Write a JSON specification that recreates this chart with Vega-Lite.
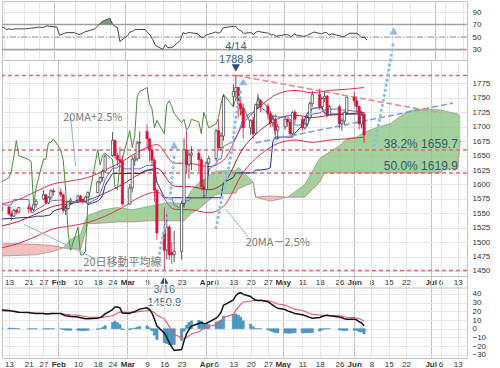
{
"$schema":"https://vega.github.io/schema/vega-lite/v6.json",
"padding":0,
"background":"white",
"config":{"view":{"stroke":"#c4c4c4","strokeWidth":1},"axis":{"labelFont":"Liberation Sans","labelFontSize":8,"labelColor":"#333333","gridColor":"#e6e6e6","ticks":false,"domain":false,"labelOverlap":false},"text":{"font":"Liberation Sans"}},
"datasets":{
"daily":[
{"date":"2020-01-10","o":1554,"h":1563,"l":1550,"c":1560,"rsi":67,"macd":21.5,"sig":20.5,"hist":1.0,"tk":1565,"kj":1540},
{"date":"2020-01-13","o":1561,"h":1562,"l":1546,"c":1549,"rsi":65,"macd":21,"sig":20.2,"hist":0.8,"tk":1564,"kj":1541},
{"date":"2020-01-14","o":1549,"h":1553,"l":1537,"c":1545,"rsi":62,"macd":20.5,"sig":19.9,"hist":0.6,"tk":1565,"kj":1541},
{"date":"2020-01-15","o":1545,"h":1558,"l":1544,"c":1555,"rsi":63,"macd":20,"sig":19.5,"hist":0.5,"tk":1574,"kj":1541},
{"date":"2020-01-16","o":1555,"h":1558,"l":1548,"c":1552,"rsi":62,"macd":19.5,"sig":19.2,"hist":0.3,"tk":1574,"kj":1542},
{"date":"2020-01-17","o":1552,"h":1561,"l":1550,"c":1560,"rsi":63,"macd":19,"sig":18.9,"hist":0.1,"tk":1574,"kj":1542},
{"date":"2020-01-21","o":1560,"h":1566,"l":1550,"c":1558,"rsi":63,"macd":18.5,"sig":18.6,"hist":-0.1,"tk":1574,"kj":1543},
{"date":"2020-01-22","o":1558,"h":1562,"l":1552,"c":1556,"rsi":63,"macd":18,"sig":18.3,"hist":-0.3,"tk":1551,"kj":1543},
{"date":"2020-01-23","o":1557,"h":1567,"l":1553,"c":1565,"rsi":64,"macd":17.8,"sig":18.0,"hist":-0.2,"tk":1552,"kj":1544},
{"date":"2020-01-24","o":1565,"h":1575,"l":1560,"c":1571,"rsi":64,"macd":17.5,"sig":17.8,"hist":-0.3,"tk":1556,"kj":1545},
{"date":"2020-01-27","o":1575,"h":1590,"l":1573,"c":1582,"rsi":66,"macd":17.5,"sig":17.7,"hist":-0.2,"tk":1563,"kj":1545},
{"date":"2020-01-28","o":1582,"h":1584,"l":1565,"c":1568,"rsi":65,"macd":17,"sig":17.5,"hist":-0.5,"tk":1567,"kj":1546},
{"date":"2020-01-29","o":1568,"h":1580,"l":1566,"c":1577,"rsi":66,"macd":17,"sig":17.4,"hist":-0.4,"tk":1569,"kj":1546},
{"date":"2020-01-30","o":1577,"h":1592,"l":1573,"c":1589,"rsi":68,"macd":17.5,"sig":17.4,"hist":0.1,"tk":1571,"kj":1548},
{"date":"2020-01-31","o":1589,"h":1594,"l":1580,"c":1587,"rsi":67,"macd":17.5,"sig":17.4,"hist":0.1,"tk":1572,"kj":1554},
{"date":"2020-02-03","o":1587,"h":1593,"l":1578,"c":1582,"rsi":66,"macd":17.5,"sig":17.4,"hist":0.1,"tk":1573,"kj":1558},
{"date":"2020-02-04","o":1582,"h":1583,"l":1550,"c":1555,"rsi":53,"macd":16,"sig":17.1,"hist":-1.1,"tk":1572,"kj":1560},
{"date":"2020-02-05","o":1555,"h":1563,"l":1547,"c":1558,"rsi":54,"macd":15,"sig":16.7,"hist":-1.7,"tk":1570,"kj":1561},
{"date":"2020-02-06","o":1558,"h":1572,"l":1556,"c":1570,"rsi":56,"macd":14.5,"sig":16.3,"hist":-1.8,"tk":1570,"kj":1563},
{"date":"2020-02-07","o":1570,"h":1577,"l":1565,"c":1573,"rsi":57,"macd":14,"sig":15.9,"hist":-1.9,"tk":1570,"kj":1565},
{"date":"2020-02-10","o":1573,"h":1582,"l":1569,"c":1580,"rsi":57,"macd":13.5,"sig":15.4,"hist":-1.9,"tk":1570,"kj":1574},
{"date":"2020-02-11","o":1580,"h":1582,"l":1569,"c":1571,"rsi":55,"macd":12.5,"sig":14.9,"hist":-2.4,"tk":1570,"kj":1574},
{"date":"2020-02-12","o":1572,"h":1575,"l":1566,"c":1570,"rsi":54,"macd":12,"sig":14.3,"hist":-2.3,"tk":1570,"kj":1574},
{"date":"2020-02-13","o":1571,"h":1580,"l":1568,"c":1578,"rsi":56,"macd":11.5,"sig":13.8,"hist":-2.3,"tk":1570,"kj":1574},
{"date":"2020-02-14","o":1578,"h":1588,"l":1576,"c":1586,"rsi":58,"macd":11.5,"sig":13.3,"hist":-1.8,"tk":1567,"kj":1565},
{"date":"2020-02-18","o":1586,"h":1606,"l":1585,"c":1604,"rsi":63,"macd":12,"sig":13.0,"hist":-1.0,"tk":1576,"kj":1571},
{"date":"2020-02-19","o":1604,"h":1614,"l":1600,"c":1612,"rsi":67,"macd":13,"sig":12.9,"hist":0.1,"tk":1585,"kj":1575},
{"date":"2020-02-20","o":1612,"h":1626,"l":1605,"c":1623,"rsi":71,"macd":14.5,"sig":13.0,"hist":1.5,"tk":1595,"kj":1581},
{"date":"2020-02-21","o":1623,"h":1652,"l":1620,"c":1649,"rsi":75,"macd":17,"sig":13.5,"hist":3.5,"tk":1609,"kj":1598},
{"date":"2020-02-24","o":1650,"h":1691,"l":1648,"c":1676,"rsi":80,"macd":22,"sig":14.8,"hist":7.2,"tk":1628,"kj":1619},
{"date":"2020-02-25","o":1676,"h":1678,"l":1645,"c":1650,"rsi":71,"macd":25,"sig":16.5,"hist":8.5,"tk":1628,"kj":1619},
{"date":"2020-02-26","o":1650,"h":1654,"l":1632,"c":1643,"rsi":67,"macd":25,"sig":18.0,"hist":7.0,"tk":1629,"kj":1619},
{"date":"2020-02-27","o":1643,"h":1665,"l":1637,"c":1640,"rsi":65,"macd":24,"sig":19.2,"hist":4.8,"tk":1633,"kj":1619},
{"date":"2020-02-28","o":1640,"h":1650,"l":1563,"c":1566,"rsi":43,"macd":18,"sig":19.0,"hist":-1.0,"tk":1627,"kj":1619},
{"date":"2020-03-02","o":1566,"h":1601,"l":1565,"c":1594,"rsi":52,"macd":17.5,"sig":18.8,"hist":-1.3,"tk":1627,"kj":1619},
{"date":"2020-03-03","o":1594,"h":1649,"l":1586,"c":1644,"rsi":58,"macd":19,"sig":18.8,"hist":0.2,"tk":1627,"kj":1619},
{"date":"2020-03-04","o":1641,"h":1652,"l":1632,"c":1644,"rsi":59,"macd":19.5,"sig":18.9,"hist":0.6,"tk":1627,"kj":1619},
{"date":"2020-03-05","o":1644,"h":1675,"l":1640,"c":1672,"rsi":62,"macd":21,"sig":19.3,"hist":1.7,"tk":1627,"kj":1619},
{"date":"2020-03-06","o":1672,"h":1692,"l":1644,"c":1673,"rsi":62,"macd":22.5,"sig":19.9,"hist":2.6,"tk":1627,"kj":1619},
{"date":"2020-03-09","o":1692,"h":1704,"l":1660,"c":1679,"rsi":62,"macd":24,"sig":20.7,"hist":3.3,"tk":1633,"kj":1625},
{"date":"2020-03-10","o":1679,"h":1681,"l":1640,"c":1660,"rsi":57,"macd":22,"sig":21.0,"hist":1.0,"tk":1633,"kj":1625},
{"date":"2020-03-11","o":1660,"h":1666,"l":1632,"c":1642,"rsi":53,"macd":18,"sig":20.4,"hist":-2.4,"tk":1633,"kj":1625},
{"date":"2020-03-12","o":1642,"h":1646,"l":1570,"c":1590,"rsi":46,"macd":11,"sig":18.5,"hist":-7.5,"tk":1634,"kj":1625},
{"date":"2020-03-13","o":1590,"h":1592,"l":1504,"c":1516,"rsi":37,"macd":3,"sig":15.4,"hist":-12.4,"tk":1604,"kj":1604},
{"date":"2020-03-16","o":1516,"h":1560,"l":1451,"c":1486,"rsi":30,"macd":-5,"sig":11.3,"hist":-16.3,"tk":1577,"kj":1577},
{"date":"2020-03-17","o":1486,"h":1548,"l":1470,"c":1526,"rsi":38,"macd":-10,"sig":7.0,"hist":-17.0,"tk":1577,"kj":1577},
{"date":"2020-03-18","o":1526,"h":1530,"l":1469,"c":1478,"rsi":33,"macd":-16,"sig":2.4,"hist":-18.4,"tk":1577,"kj":1577},
{"date":"2020-03-19","o":1482,"h":1500,"l":1462,"c":1478,"rsi":33,"macd":-21,"sig":-2.2,"hist":-18.8,"tk":1577,"kj":1577},
{"date":"2020-03-20","o":1478,"h":1520,"l":1465,"c":1484,"rsi":34,"macd":-25,"sig":-6.8,"hist":-18.2,"tk":1564,"kj":1577},
{"date":"2020-03-23","o":1484,"h":1572,"l":1470,"c":1567,"rsi":45,"macd":-24,"sig":-10.2,"hist":-13.8,"tk":1558,"kj":1577},
{"date":"2020-03-24","o":1567,"h":1680,"l":1560,"c":1660,"rsi":57,"macd":-14,"sig":-11.0,"hist":-3.0,"tk":1565,"kj":1577},
{"date":"2020-03-25","o":1660,"h":1693,"l":1620,"c":1634,"rsi":55,"macd":-6,"sig":-10.0,"hist":4.0,"tk":1572,"kj":1577},
{"date":"2020-03-26","o":1634,"h":1660,"l":1610,"c":1651,"rsi":57,"macd":-1,"sig":-8.2,"hist":7.2,"tk":1572,"kj":1577},
{"date":"2020-03-27","o":1651,"h":1666,"l":1625,"c":1654,"rsi":57,"macd":3,"sig":-6.0,"hist":9.0,"tk":1577,"kj":1577},
{"date":"2020-03-30","o":1654,"h":1658,"l":1622,"c":1643,"rsi":55,"macd":6,"sig":-3.6,"hist":9.6,"tk":1577,"kj":1577},
{"date":"2020-03-31","o":1643,"h":1648,"l":1590,"c":1596,"rsi":50,"macd":7,"sig":-1.5,"hist":8.5,"tk":1577,"kj":1577},
{"date":"2020-04-01","o":1596,"h":1609,"l":1576,"c":1591,"rsi":49,"macd":6,"sig":0,"hist":6.0,"tk":1579,"kj":1577},
{"date":"2020-04-02","o":1591,"h":1640,"l":1590,"c":1637,"rsi":53,"macd":6,"sig":1.2,"hist":4.8,"tk":1581,"kj":1577},
{"date":"2020-04-03","o":1637,"h":1650,"l":1615,"c":1645,"rsi":54,"macd":7.5,"sig":2.5,"hist":5.0,"tk":1626,"kj":1577},
{"date":"2020-04-06","o":1645,"h":1696,"l":1640,"c":1693,"rsi":58,"macd":12,"sig":4.4,"hist":7.6,"tk":1636,"kj":1577},
{"date":"2020-04-07","o":1693,"h":1713,"l":1660,"c":1664,"rsi":56,"macd":15,"sig":6.5,"hist":8.5,"tk":1644,"kj":1577},
{"date":"2020-04-08","o":1664,"h":1690,"l":1659,"c":1684,"rsi":58,"macd":19,"sig":9.0,"hist":10.0,"tk":1644,"kj":1577},
{"date":"2020-04-09","o":1684,"h":1756,"l":1676,"c":1752,"rsi":65,"macd":27,"sig":12.6,"hist":14.4,"tk":1666,"kj":1603},
{"date":"2020-04-13","o":1752,"h":1774,"l":1735,"c":1761,"rsi":67,"macd":33,"sig":16.7,"hist":16.3,"tk":1675,"kj":1612},
{"date":"2020-04-14","o":1761,"h":1788.8,"l":1749,"c":1768,"rsi":67,"macd":38,"sig":21.0,"hist":17.0,"tk":1682,"kj":1620},
{"date":"2020-04-15","o":1768,"h":1769,"l":1716,"c":1740,"rsi":62,"macd":40.5,"sig":24.9,"hist":15.6,"tk":1689,"kj":1620},
{"date":"2020-04-16","o":1740,"h":1753,"l":1719,"c":1731,"rsi":60,"macd":41.4,"sig":28.2,"hist":13.2,"tk":1702,"kj":1620},
{"date":"2020-04-17","o":1731,"h":1740,"l":1680,"c":1698,"rsi":56,"macd":39.5,"sig":30.5,"hist":9.0,"tk":1714,"kj":1620},
{"date":"2020-04-20","o":1698,"h":1713,"l":1686,"c":1711,"rsi":57,"macd":37,"sig":31.8,"hist":5.2,"tk":1724,"kj":1620},
{"date":"2020-04-21","o":1711,"h":1717,"l":1679,"c":1688,"rsi":54,"macd":34.5,"sig":32.3,"hist":2.2,"tk":1724,"kj":1620},
{"date":"2020-04-22","o":1688,"h":1740,"l":1687,"c":1738,"rsi":58,"macd":33,"sig":32.4,"hist":0.6,"tk":1732,"kj":1625},
{"date":"2020-04-23","o":1738,"h":1757,"l":1730,"c":1745,"rsi":59,"macd":32.5,"sig":32.4,"hist":0.1,"tk":1734,"kj":1625},
{"date":"2020-04-24","o":1745,"h":1748,"l":1725,"c":1735,"rsi":58,"macd":32.6,"sig":32.4,"hist":0.2,"tk":1734,"kj":1625},
{"date":"2020-04-27","o":1735,"h":1740,"l":1713,"c":1723,"rsi":56,"macd":31,"sig":32.1,"hist":-1.1,"tk":1724,"kj":1627},
{"date":"2020-04-28","o":1723,"h":1727,"l":1700,"c":1707,"rsi":53,"macd":29,"sig":31.5,"hist":-2.5,"tk":1718,"kj":1629},
{"date":"2020-04-29","o":1707,"h":1718,"l":1700,"c":1713,"rsi":54,"macd":27,"sig":30.6,"hist":-3.6,"tk":1718,"kj":1674},
{"date":"2020-04-30","o":1713,"h":1722,"l":1680,"c":1694,"rsi":51,"macd":25,"sig":29.5,"hist":-4.5,"tk":1718,"kj":1682},
{"date":"2020-05-01","o":1694,"h":1705,"l":1678,"c":1700,"rsi":52,"macd":23.5,"sig":28.3,"hist":-4.8,"tk":1717,"kj":1682},
{"date":"2020-05-04","o":1700,"h":1718,"l":1695,"c":1713,"rsi":54,"macd":22,"sig":27.1,"hist":-5.1,"tk":1717,"kj":1682},
{"date":"2020-05-05","o":1713,"h":1715,"l":1700,"c":1708,"rsi":53,"macd":20.5,"sig":25.8,"hist":-5.3,"tk":1717,"kj":1682},
{"date":"2020-05-06","o":1708,"h":1712,"l":1683,"c":1688,"rsi":50,"macd":19.5,"sig":24.6,"hist":-5.1,"tk":1713,"kj":1682},
{"date":"2020-05-07","o":1688,"h":1727,"l":1686,"c":1725,"rsi":55,"macd":18.5,"sig":23.4,"hist":-4.9,"tk":1709,"kj":1682},
{"date":"2020-05-08","o":1725,"h":1729,"l":1706,"c":1713,"rsi":53,"macd":17.5,"sig":22.2,"hist":-4.7,"tk":1703,"kj":1689},
{"date":"2020-05-11","o":1713,"h":1717,"l":1693,"c":1698,"rsi":51,"macd":16,"sig":21.0,"hist":-5.0,"tk":1703,"kj":1702},
{"date":"2020-05-12","o":1698,"h":1713,"l":1695,"c":1705,"rsi":52,"macd":15,"sig":19.8,"hist":-4.8,"tk":1703,"kj":1714},
{"date":"2020-05-13","o":1705,"h":1720,"l":1700,"c":1716,"rsi":54,"macd":14,"sig":18.6,"hist":-4.6,"tk":1703,"kj":1724},
{"date":"2020-05-14","o":1716,"h":1744,"l":1712,"c":1740,"rsi":56,"macd":13,"sig":17.5,"hist":-4.5,"tk":1713,"kj":1724},
{"date":"2020-05-15","o":1740,"h":1762,"l":1735,"c":1756,"rsi":58,"macd":12,"sig":16.5,"hist":-4.5,"tk":1722,"kj":1732},
{"date":"2020-05-18","o":1756,"h":1766,"l":1729,"c":1735,"rsi":55,"macd":13,"sig":15.8,"hist":-2.8,"tk":1724,"kj":1733},
{"date":"2020-05-19","o":1735,"h":1752,"l":1728,"c":1749,"rsi":57,"macd":14,"sig":15.4,"hist":-1.4,"tk":1726,"kj":1733},
{"date":"2020-05-20","o":1749,"h":1761,"l":1743,"c":1753,"rsi":57,"macd":15,"sig":15.3,"hist":-0.3,"tk":1729,"kj":1723},
{"date":"2020-05-21","o":1753,"h":1755,"l":1716,"c":1721,"rsi":53,"macd":15.4,"sig":15.3,"hist":0.1,"tk":1729,"kj":1722},
{"date":"2020-05-22","o":1721,"h":1738,"l":1720,"c":1735,"rsi":55,"macd":15,"sig":15.2,"hist":-0.2,"tk":1730,"kj":1722},
{"date":"2020-05-26","o":1735,"h":1738,"l":1697,"c":1705,"rsi":51,"macd":13.5,"sig":14.9,"hist":-1.4,"tk":1731,"kj":1722},
{"date":"2020-05-27","o":1705,"h":1715,"l":1693,"c":1710,"rsi":51,"macd":12.5,"sig":14.4,"hist":-1.9,"tk":1729,"kj":1722},
{"date":"2020-05-28","o":1710,"h":1727,"l":1704,"c":1725,"rsi":53,"macd":11.5,"sig":13.8,"hist":-2.3,"tk":1729,"kj":1722},
{"date":"2020-05-29","o":1725,"h":1752,"l":1722,"c":1751,"rsi":56,"macd":11,"sig":13.2,"hist":-2.2,"tk":1729,"kj":1722},
{"date":"2020-06-01","o":1751,"h":1760,"l":1736,"c":1745,"rsi":56,"macd":11,"sig":12.7,"hist":-1.7,"tk":1727,"kj":1722},
{"date":"2020-06-02","o":1745,"h":1752,"l":1725,"c":1735,"rsi":53,"macd":10,"sig":12.2,"hist":-2.2,"tk":1727,"kj":1722},
{"date":"2020-06-03","o":1735,"h":1737,"l":1695,"c":1705,"rsi":49,"macd":8,"sig":11.4,"hist":-3.4,"tk":1726,"kj":1722},
{"date":"2020-06-04","o":1705,"h":1728,"l":1697,"c":1720,"rsi":50,"macd":6.5,"sig":10.4,"hist":-3.9,"tk":1726,"kj":1722},
{"date":"2020-06-05","o":1722,"h":1726,"l":1672,"c":1686,"rsi":45,"macd":3,"sig":9.0,"hist":-6.0,"tk":1715,"kj":1718}
],
"ma":[
{"date":"2020-01-10","ma":1528,"up":1566,"lo":1490},{"date":"2020-01-17","ma":1536,"up":1574,"lo":1498},{"date":"2020-01-24","ma":1549,"up":1588,"lo":1510},{"date":"2020-01-31","ma":1562,"up":1601,"lo":1523},{"date":"2020-02-07","ma":1567,"up":1606,"lo":1528},{"date":"2020-02-14","ma":1573,"up":1612,"lo":1534},{"date":"2020-02-21","ma":1585,"up":1625,"lo":1545},{"date":"2020-02-28","ma":1600,"up":1640,"lo":1560},{"date":"2020-03-06","ma":1618,"up":1658,"lo":1578},{"date":"2020-03-13","ma":1628,"up":1669,"lo":1587},{"date":"2020-03-20","ma":1597,"up":1637,"lo":1557},{"date":"2020-03-27","ma":1596,"up":1636,"lo":1556},{"date":"2020-04-03","ma":1591,"up":1631,"lo":1551},{"date":"2020-04-09","ma":1602,"up":1642,"lo":1562},{"date":"2020-04-17","ma":1663,"up":1705,"lo":1621},{"date":"2020-04-24","ma":1694,"up":1736,"lo":1652},{"date":"2020-05-01","ma":1714,"up":1757,"lo":1671},{"date":"2020-05-08","ma":1720,"up":1763,"lo":1677},{"date":"2020-05-15","ma":1716,"up":1759,"lo":1673},{"date":"2020-05-22","ma":1720,"up":1763,"lo":1677},{"date":"2020-05-29","ma":1722,"up":1765,"lo":1679},{"date":"2020-06-05","ma":1725,"up":1768,"lo":1682}
],
"chikou":[
{"date":"2020-01-10","v":1604},{"date":"2020-01-13","v":1612},{"date":"2020-01-14","v":1623},{"date":"2020-01-15","v":1649},{"date":"2020-01-16","v":1676},{"date":"2020-01-17","v":1650},{"date":"2020-01-21","v":1643},{"date":"2020-01-22","v":1640},{"date":"2020-01-23","v":1566},{"date":"2020-01-24","v":1594},{"date":"2020-01-27","v":1644},{"date":"2020-01-28","v":1644},{"date":"2020-01-29","v":1672},{"date":"2020-01-30","v":1673},{"date":"2020-01-31","v":1679},{"date":"2020-02-03","v":1660},{"date":"2020-02-04","v":1642},{"date":"2020-02-05","v":1590},{"date":"2020-02-06","v":1516},{"date":"2020-02-07","v":1486},{"date":"2020-02-10","v":1526},{"date":"2020-02-11","v":1478},{"date":"2020-02-12","v":1478},{"date":"2020-02-13","v":1484},{"date":"2020-02-14","v":1567},{"date":"2020-02-18","v":1660},{"date":"2020-02-19","v":1634},{"date":"2020-02-20","v":1651},{"date":"2020-02-21","v":1654},{"date":"2020-02-24","v":1643},{"date":"2020-02-25","v":1596},{"date":"2020-02-26","v":1591},{"date":"2020-02-27","v":1637},{"date":"2020-02-28","v":1645},{"date":"2020-03-02","v":1693},{"date":"2020-03-03","v":1664},{"date":"2020-03-04","v":1684},{"date":"2020-03-05","v":1752},{"date":"2020-03-06","v":1761},{"date":"2020-03-09","v":1768},{"date":"2020-03-10","v":1740},{"date":"2020-03-11","v":1731},{"date":"2020-03-12","v":1698},{"date":"2020-03-13","v":1711},{"date":"2020-03-16","v":1688},{"date":"2020-03-17","v":1738},{"date":"2020-03-18","v":1745},{"date":"2020-03-19","v":1735},{"date":"2020-03-20","v":1723},{"date":"2020-03-23","v":1707},{"date":"2020-03-24","v":1713},{"date":"2020-03-25","v":1694},{"date":"2020-03-26","v":1700},{"date":"2020-03-27","v":1713},{"date":"2020-03-30","v":1708},{"date":"2020-03-31","v":1688},{"date":"2020-04-01","v":1725},{"date":"2020-04-02","v":1713},{"date":"2020-04-03","v":1698},{"date":"2020-04-06","v":1705},{"date":"2020-04-07","v":1716},{"date":"2020-04-08","v":1740},{"date":"2020-04-09","v":1756},{"date":"2020-04-13","v":1735},{"date":"2020-04-14","v":1749},{"date":"2020-04-15","v":1753},{"date":"2020-04-16","v":1721},{"date":"2020-04-17","v":1735},{"date":"2020-04-20","v":1705},{"date":"2020-04-21","v":1710},{"date":"2020-04-22","v":1725},{"date":"2020-04-23","v":1751},{"date":"2020-04-24","v":1745},{"date":"2020-04-27","v":1735},{"date":"2020-04-28","v":1705},{"date":"2020-04-29","v":1720},{"date":"2020-04-30","v":1686}
],
"cloud":[
{"date":"2020-01-10","a":1476,"b":1497,"seg":"r1","kind":"bear"},{"date":"2020-01-17","a":1477,"b":1497,"seg":"r1","kind":"bear"},{"date":"2020-01-24","a":1478,"b":1496,"seg":"r1","kind":"bear"},{"date":"2020-01-31","a":1484,"b":1494,"seg":"r1","kind":"bear"},{"date":"2020-02-04","a":1490,"b":1490,"seg":"r1","kind":"bear"},
{"date":"2020-02-04","a":1490,"b":1490,"seg":"g1","kind":"bull"},{"date":"2020-02-07","a":1505,"b":1488,"seg":"g1","kind":"bull"},{"date":"2020-02-11","a":1513,"b":1488,"seg":"g1","kind":"bull"},{"date":"2020-02-13","a":1538,"b":1518,"seg":"g1","kind":"bull"},{"date":"2020-02-14","a":1546,"b":1532,"seg":"g1","kind":"bull"},{"date":"2020-02-20","a":1556,"b":1533,"seg":"g1","kind":"bull"},{"date":"2020-02-26","a":1560,"b":1535,"seg":"g1","kind":"bull"},{"date":"2020-03-03","a":1556,"b":1535,"seg":"g1","kind":"bull"},{"date":"2020-03-10","a":1562,"b":1537,"seg":"g1","kind":"bull"},{"date":"2020-03-17","a":1568,"b":1537,"seg":"g1","kind":"bull"},{"date":"2020-03-24","a":1567,"b":1537,"seg":"g1","kind":"bull"},{"date":"2020-03-27","a":1590,"b":1550,"seg":"g1","kind":"bull"},{"date":"2020-03-30","a":1603,"b":1558,"seg":"g1","kind":"bull"},{"date":"2020-04-06","a":1623,"b":1583,"seg":"g1","kind":"bull"},{"date":"2020-04-14","a":1624,"b":1585,"seg":"g1","kind":"bull"},{"date":"2020-04-15","a":1630,"b":1592,"seg":"g1","kind":"bull"},{"date":"2020-04-21","a":1604,"b":1604,"seg":"g1","kind":"bull"},{"date":"2020-04-22","a":1578,"b":1578,"seg":"g1","kind":"bull"},
{"date":"2020-04-22","a":1578,"b":1578,"seg":"r2","kind":"bear"},{"date":"2020-04-28","a":1571,"b":1580,"seg":"r2","kind":"bear"},{"date":"2020-05-05","a":1578,"b":1578,"seg":"r2","kind":"bear"},
{"date":"2020-05-05","a":1578,"b":1578,"seg":"g2","kind":"bull"},{"date":"2020-05-12","a":1600,"b":1578,"seg":"g2","kind":"bull"},{"date":"2020-05-18","a":1645,"b":1604,"seg":"g2","kind":"bull"},{"date":"2020-05-20","a":1651,"b":1620,"seg":"g2","kind":"bull"},{"date":"2020-05-26","a":1667,"b":1620,"seg":"g2","kind":"bull"},{"date":"2020-05-29","a":1679,"b":1620,"seg":"g2","kind":"bull"},{"date":"2020-06-02","a":1682,"b":1620,"seg":"g2","kind":"bull"},{"date":"2020-06-05","a":1690,"b":1620,"seg":"g2","kind":"bull"},{"date":"2020-06-09","a":1697,"b":1620,"seg":"g2","kind":"bull"},{"date":"2020-06-16","a":1706,"b":1620,"seg":"g2","kind":"bull"},{"date":"2020-06-19","a":1716,"b":1620,"seg":"g2","kind":"bull"},{"date":"2020-06-23","a":1727,"b":1620,"seg":"g2","kind":"bull"},{"date":"2020-06-26","a":1730,"b":1620,"seg":"g2","kind":"bull"},{"date":"2020-06-30","a":1731,"b":1620,"seg":"g2","kind":"bull"},{"date":"2020-07-06","a":1729,"b":1620,"seg":"g2","kind":"bull"},{"date":"2020-07-07","a":1728,"b":1626,"seg":"g2","kind":"bull"},{"date":"2020-07-10","a":1725,"b":1627,"seg":"g2","kind":"bull"},{"date":"2020-07-13","a":1722,"b":1627,"seg":"g2","kind":"bull"},{"date":"2020-07-14","a":1718,"b":1677,"seg":"g2","kind":"bull"}
],
"levels":[{"v":1788.8},{"v":1659.7},{"v":1619.9},{"v":1450.9}],
"trend":[{"date":"2020-04-22","v":1672,"id":"up"},{"date":"2020-07-11","v":1741,"id":"up"},{"date":"2020-04-14","v":1789,"id":"dn"},{"date":"2020-07-06","v":1724,"id":"dn"}],
"dots":[
{"date":"2020-03-14","v":1481,"id":"a"},{"date":"2020-03-16","v":1524,"id":"a"},{"date":"2020-03-18","v":1565,"id":"a"},{"date":"2020-03-19","v":1605,"id":"a"},{"date":"2020-03-20","v":1650,"id":"a"},
{"date":"2020-04-06","v":1525,"id":"b"},{"date":"2020-04-09","v":1590,"id":"b"},{"date":"2020-04-12","v":1650,"id":"b"},{"date":"2020-04-14","v":1715,"id":"b"},{"date":"2020-04-16","v":1762,"id":"b"},
{"date":"2020-06-09","v":1668,"id":"c"},{"date":"2020-06-13","v":1750,"id":"c"},{"date":"2020-06-17","v":1850,"id":"c"}
],
"heads":[{"date":"2020-03-20","v":1668},{"date":"2020-04-17","v":1778},{"date":"2020-06-17","v":1866}],
"pointers":[
{"date":"2020-02-07","v":1717,"id":"p1"},{"date":"2020-02-09","v":1632,"id":"p1"},
{"date":"2020-02-17","v":1471,"id":"p2"},{"date":"2020-01-19","v":1531,"id":"p2"},
{"date":"2020-04-19","v":1509,"id":"p3"},{"date":"2020-04-10","v":1557,"id":"p3"}
],
"grayNotes":[{"date":"2020-02-16","v":1715,"t":"20MA+2.5%"},{"date":"2020-02-28","v":1464,"t":"20日移動平均線"},{"date":"2020-05-01","v":1498,"t":"20MA－2.5%"}],
"blueNotes":[{"date":"2020-04-14","v":1838.5,"t":"4/14"},{"date":"2020-04-14","v":1815,"t":"1788.8"},{"date":"2020-03-16","v":1417.5,"t":"3/16"},{"date":"2020-03-16","v":1394.5,"t":"1450.9"}],
"marksDn":[{"date":"2020-04-14","v":1802}],
"marksUp":[{"date":"2020-03-16","v":1434}],
"fibNotes":[{"date":"2020-06-28","v":1670,"t":"38.2% 1659.7"},{"date":"2020-06-28","v":1632,"t":"50.0% 1619.9"}],
"rsiRef":[{"v":70},{"v":30}],
"rsiMid":[{"v":50}],
"macdTop":[{"v":46.8}]
},
"bounds":"flush",
"spacing":0,
"vconcat":[
{"width":465,"height":59,
"layer":[
{"data":{"name":"rsiRef"},"mark":{"type":"rule","color":"#a0a0a0","strokeWidth":1.6},"encoding":{"y":{"field":"v","type":"quantitative","scale":{"domain":[13.2,107.6],"nice":false,"zero":false},"axis":{"orient":"right","values":[30,50,70,90],"tickCount":100,"grid":true,"title":null,"labelPadding":5}}}},
{"data":{"name":"rsiMid"},"mark":{"type":"rule","color":"#999999","strokeWidth":1,"strokeDash":[6,2,1,2]},"encoding":{"y":{"field":"v","type":"quantitative"}}},
{"data":{"name":"daily"},"transform":[{"filter":"datum.rsi >= 70"}],"mark":{"type":"area","color":"#5f8f55","opacity":0.85,"clip":true},"encoding":{"x":{"field":"date","type":"temporal"},"y":{"field":"rsi","type":"quantitative"},"y2":{"datum":70}}},
{"data":{"name":"daily"},"mark":{"type":"line","color":"#454545","strokeWidth":1,"clip":true},"encoding":{"x":{"field":"date","type":"temporal","scale":{"type":"utc","nice":false,"domain":[{"year":2020,"month":1,"date":12,"hours":5,"utc":true},{"year":2020,"month":7,"date":14,"hours":17,"utc":true}]},"axis":{"values":[{"year":2020,"month":1,"date":13,"utc":true},{"year":2020,"month":1,"date":21,"utc":true},{"year":2020,"month":1,"date":27,"utc":true},{"year":2020,"month":2,"date":2,"utc":true},{"year":2020,"month":2,"date":10,"utc":true},{"year":2020,"month":2,"date":18,"utc":true},{"year":2020,"month":2,"date":24,"utc":true},{"year":2020,"month":3,"date":1,"utc":true},{"year":2020,"month":3,"date":9,"utc":true},{"year":2020,"month":3,"date":16,"utc":true},{"year":2020,"month":3,"date":23,"utc":true},{"year":2020,"month":4,"date":2,"utc":true},{"year":2020,"month":4,"date":6,"utc":true},{"year":2020,"month":4,"date":13,"utc":true},{"year":2020,"month":4,"date":20,"utc":true},{"year":2020,"month":4,"date":27,"utc":true},{"year":2020,"month":5,"date":3,"utc":true},{"year":2020,"month":5,"date":11,"utc":true},{"year":2020,"month":5,"date":18,"utc":true},{"year":2020,"month":5,"date":26,"utc":true},{"year":2020,"month":6,"date":1,"utc":true},{"year":2020,"month":6,"date":8,"utc":true},{"year":2020,"month":6,"date":15,"utc":true},{"year":2020,"month":6,"date":22,"utc":true},{"year":2020,"month":7,"date":2,"utc":true},{"year":2020,"month":7,"date":6,"utc":true},{"year":2020,"month":7,"date":13,"utc":true}],"tickCount":100,"labels":false,"grid":true,"title":null,"gridColor":{"condition":{"test":"utcdate(datum.value) <= 3","value":"#c4c4c4"},"value":"#e6e6e6"}}},"y":{"field":"rsi","type":"quantitative"}}}
]},
{"width":465,"height":216,
"layer":[
{"data":{"name":"cloud"},"mark":{"type":"area","opacity":0.8,"clip":true},"encoding":{"x":{"field":"date","type":"temporal","scale":{"type":"utc","nice":false,"domain":[{"year":2020,"month":1,"date":12,"hours":5,"utc":true},{"year":2020,"month":7,"date":14,"hours":17,"utc":true}]},"axis":{"values":[{"year":2020,"month":1,"date":13,"utc":true},{"year":2020,"month":1,"date":21,"utc":true},{"year":2020,"month":1,"date":27,"utc":true},{"year":2020,"month":2,"date":2,"utc":true},{"year":2020,"month":2,"date":10,"utc":true},{"year":2020,"month":2,"date":18,"utc":true},{"year":2020,"month":2,"date":24,"utc":true},{"year":2020,"month":3,"date":1,"utc":true},{"year":2020,"month":3,"date":9,"utc":true},{"year":2020,"month":3,"date":16,"utc":true},{"year":2020,"month":3,"date":23,"utc":true},{"year":2020,"month":4,"date":2,"utc":true},{"year":2020,"month":4,"date":6,"utc":true},{"year":2020,"month":4,"date":13,"utc":true},{"year":2020,"month":4,"date":20,"utc":true},{"year":2020,"month":4,"date":27,"utc":true},{"year":2020,"month":5,"date":3,"utc":true},{"year":2020,"month":5,"date":11,"utc":true},{"year":2020,"month":5,"date":18,"utc":true},{"year":2020,"month":5,"date":26,"utc":true},{"year":2020,"month":6,"date":1,"utc":true},{"year":2020,"month":6,"date":8,"utc":true},{"year":2020,"month":6,"date":15,"utc":true},{"year":2020,"month":6,"date":22,"utc":true},{"year":2020,"month":7,"date":2,"utc":true},{"year":2020,"month":7,"date":6,"utc":true},{"year":2020,"month":7,"date":13,"utc":true}],"tickCount":100,"labelExpr":"(utcmonth(datum.value) == 2 && utcdate(datum.value) == 16) ? '' : (utcdate(datum.value) <= 3 ? utcFormat(datum.value, '%b') : utcFormat(datum.value, '%-d'))","labelFontWeight":{"condition":{"test":"utcdate(datum.value) <= 3","value":"bold"},"value":"normal"},"labelOverlap":false,"labelFlush":false,"labelPadding":2,"grid":true,"title":null,"gridColor":{"condition":{"test":"utcdate(datum.value) <= 3","value":"#c4c4c4"},"value":"#e6e6e6"}}},"y":{"field":"a","type":"quantitative","scale":{"domain":[1441.3,1815.7],"nice":false,"zero":false},"axis":{"orient":"right","values":[1450,1475,1500,1525,1550,1575,1600,1625,1650,1675,1700,1725,1750,1775],"tickCount":100,"format":"d","grid":true,"title":null,"labelPadding":5}},"y2":{"field":"b"},"color":{"field":"kind","type":"nominal","scale":{"domain":["bull","bear"],"range":["#8dc585","#efb0b0"]},"legend":null},"detail":{"field":"seg"}}},
{"data":{"name":"cloud"},"mark":{"type":"line","color":"#88a880","strokeWidth":0.8,"clip":true},"encoding":{"x":{"field":"date","type":"temporal"},"y":{"field":"a","type":"quantitative"}}},
{"data":{"name":"cloud"},"mark":{"type":"line","color":"#c08080","strokeWidth":0.8,"clip":true},"encoding":{"x":{"field":"date","type":"temporal"},"y":{"field":"b","type":"quantitative"}}},
{"data":{"name":"levels"},"mark":{"type":"rule","color":"#e8676f","strokeWidth":1.4,"strokeDash":[4,3]},"encoding":{"y":{"field":"v","type":"quantitative"}}},
{"data":{"name":"ma"},"mark":{"type":"line","color":"#e0304c","strokeWidth":1,"clip":true,"interpolate":"monotone"},"encoding":{"x":{"field":"date","type":"temporal"},"y":{"field":"up","type":"quantitative"}}},
{"data":{"name":"ma"},"mark":{"type":"line","color":"#e0304c","strokeWidth":1,"clip":true,"interpolate":"monotone"},"encoding":{"x":{"field":"date","type":"temporal"},"y":{"field":"lo","type":"quantitative"}}},
{"data":{"name":"ma"},"mark":{"type":"line","color":"#b0203c","strokeWidth":1,"clip":true,"interpolate":"monotone"},"encoding":{"x":{"field":"date","type":"temporal"},"y":{"field":"ma","type":"quantitative"}}},
{"data":{"name":"daily"},"mark":{"type":"line","color":"#1f2f8a","strokeWidth":1,"clip":true},"encoding":{"x":{"field":"date","type":"temporal"},"y":{"field":"kj","type":"quantitative"}}},
{"data":{"name":"daily"},"mark":{"type":"line","color":"#6a68d0","strokeWidth":1,"clip":true},"encoding":{"x":{"field":"date","type":"temporal"},"y":{"field":"tk","type":"quantitative"}}},
{"data":{"name":"chikou"},"mark":{"type":"line","color":"#4a8a3e","strokeWidth":1,"clip":true},"encoding":{"x":{"field":"date","type":"temporal"},"y":{"field":"v","type":"quantitative"}}},
{"data":{"name":"trend"},"transform":[{"filter":"datum.id == 'up'"}],"mark":{"type":"line","color":"#7aa0d8","strokeWidth":1.6,"strokeDash":[6,3]},"encoding":{"x":{"field":"date","type":"temporal"},"y":{"field":"v","type":"quantitative"}}},
{"data":{"name":"trend"},"transform":[{"filter":"datum.id == 'dn'"}],"mark":{"type":"line","color":"#ec8a8a","strokeWidth":1.6,"strokeDash":[6,3]},"encoding":{"x":{"field":"date","type":"temporal"},"y":{"field":"v","type":"quantitative"}}},
{"data":{"name":"daily"},"mark":{"type":"rule","strokeWidth":0.8,"clip":true},"encoding":{"x":{"field":"date","type":"temporal"},"y":{"field":"l","type":"quantitative"},"y2":{"field":"h"},"color":{"condition":{"test":"datum.c < datum.o","value":"#d8143a"},"value":"#333333"}}},
{"data":{"name":"daily"},"mark":{"type":"bar","size":2.2,"strokeWidth":0.7,"clip":true},"encoding":{"x":{"field":"date","type":"temporal"},"y":{"field":"o","type":"quantitative"},"y2":{"field":"c"},"fill":{"condition":{"test":"datum.c < datum.o","value":"#d8143a"},"value":"#ffffff"},"stroke":{"condition":{"test":"datum.c < datum.o","value":"#d8143a"},"value":"#333333"}}},
{"data":{"name":"dots"},"mark":{"type":"line","color":"#8ebde6","strokeWidth":3.2,"strokeDash":[0.1,5],"strokeCap":"round","interpolate":"monotone"},"encoding":{"x":{"field":"date","type":"temporal"},"y":{"field":"v","type":"quantitative"},"detail":{"field":"id"}}},
{"data":{"name":"heads"},"mark":{"type":"point","shape":"triangle-up","filled":true,"color":"#8ebde6","size":70,"opacity":1},"encoding":{"x":{"field":"date","type":"temporal"},"y":{"field":"v","type":"quantitative"}}},
{"data":{"name":"pointers"},"mark":{"type":"line","color":"#8fb2d6","strokeWidth":1},"encoding":{"x":{"field":"date","type":"temporal"},"y":{"field":"v","type":"quantitative"},"detail":{"field":"id"}}},
{"data":{"name":"grayNotes"},"mark":{"type":"text","color":"#7a7a7a","fontSize":11,"font":"Noto Sans CJK JP"},"encoding":{"x":{"field":"date","type":"temporal"},"y":{"field":"v","type":"quantitative"},"text":{"field":"t"}}},
{"data":{"name":"marksDn"},"mark":{"type":"point","shape":"triangle-down","filled":true,"color":"#2c4c7c","size":70,"opacity":1},"encoding":{"x":{"field":"date","type":"temporal"},"y":{"field":"v","type":"quantitative"}}},
{"data":{"name":"marksUp"},"mark":{"type":"point","shape":"triangle-up","filled":true,"color":"#2c4c7c","size":70,"opacity":1},"encoding":{"x":{"field":"date","type":"temporal"},"y":{"field":"v","type":"quantitative"}}},
{"data":{"name":"blueNotes"},"mark":{"type":"text","color":"#3a6592","fontSize":11},"encoding":{"x":{"field":"date","type":"temporal"},"y":{"field":"v","type":"quantitative"},"text":{"field":"t"}}},
{"data":{"name":"fibNotes"},"mark":{"type":"text","color":"#2f5a6c","fontSize":12},"encoding":{"x":{"field":"date","type":"temporal"},"y":{"field":"v","type":"quantitative"},"text":{"field":"t"}}}
]},
{"width":465,"height":82,
"layer":[
{"data":{"name":"daily"},"mark":{"type":"bar","size":2.4,"color":"#4b9cc9","stroke":"#2f7fb0","strokeWidth":0.4,"clip":true},"encoding":{"x":{"field":"date","type":"temporal","scale":{"type":"utc","nice":false,"domain":[{"year":2020,"month":1,"date":12,"hours":5,"utc":true},{"year":2020,"month":7,"date":14,"hours":17,"utc":true}]},"axis":{"values":[{"year":2020,"month":1,"date":13,"utc":true},{"year":2020,"month":1,"date":21,"utc":true},{"year":2020,"month":1,"date":27,"utc":true},{"year":2020,"month":2,"date":2,"utc":true},{"year":2020,"month":2,"date":10,"utc":true},{"year":2020,"month":2,"date":18,"utc":true},{"year":2020,"month":2,"date":24,"utc":true},{"year":2020,"month":3,"date":1,"utc":true},{"year":2020,"month":3,"date":9,"utc":true},{"year":2020,"month":3,"date":16,"utc":true},{"year":2020,"month":3,"date":23,"utc":true},{"year":2020,"month":4,"date":2,"utc":true},{"year":2020,"month":4,"date":6,"utc":true},{"year":2020,"month":4,"date":13,"utc":true},{"year":2020,"month":4,"date":20,"utc":true},{"year":2020,"month":4,"date":27,"utc":true},{"year":2020,"month":5,"date":3,"utc":true},{"year":2020,"month":5,"date":11,"utc":true},{"year":2020,"month":5,"date":18,"utc":true},{"year":2020,"month":5,"date":26,"utc":true},{"year":2020,"month":6,"date":1,"utc":true},{"year":2020,"month":6,"date":8,"utc":true},{"year":2020,"month":6,"date":15,"utc":true},{"year":2020,"month":6,"date":22,"utc":true},{"year":2020,"month":7,"date":2,"utc":true},{"year":2020,"month":7,"date":6,"utc":true},{"year":2020,"month":7,"date":13,"utc":true}],"tickCount":100,"labelExpr":"utcdate(datum.value) <= 3 ? utcFormat(datum.value, '%b') : utcFormat(datum.value, '%-d')","labelFontWeight":{"condition":{"test":"utcdate(datum.value) <= 3","value":"bold"},"value":"normal"},"labelOverlap":false,"labelFlush":false,"labelPadding":2,"grid":true,"title":null,"gridColor":{"condition":{"test":"utcdate(datum.value) <= 3","value":"#c4c4c4"},"value":"#e6e6e6"}}},"y":{"field":"hist","type":"quantitative","scale":{"domain":[-33.7,60.6],"nice":false,"zero":false},"axis":{"orient":"right","values":[-30,-20,-10,0,10,20,30,40],"tickCount":100,"grid":true,"title":null,"labelPadding":5}}}},
{"data":{"name":"macdTop"},"mark":{"type":"rule","color":"#c4c4c4","strokeWidth":1},"encoding":{"y":{"field":"v","type":"quantitative"}}},
{"data":{"name":"daily"},"mark":{"type":"line","color":"#e85a64","strokeWidth":1.1,"clip":true},"encoding":{"x":{"field":"date","type":"temporal"},"y":{"field":"sig","type":"quantitative"}}},
{"data":{"name":"daily"},"mark":{"type":"line","color":"#111111","strokeWidth":1.5,"clip":true},"encoding":{"x":{"field":"date","type":"temporal"},"y":{"field":"macd","type":"quantitative"}}}
]}
]
}
